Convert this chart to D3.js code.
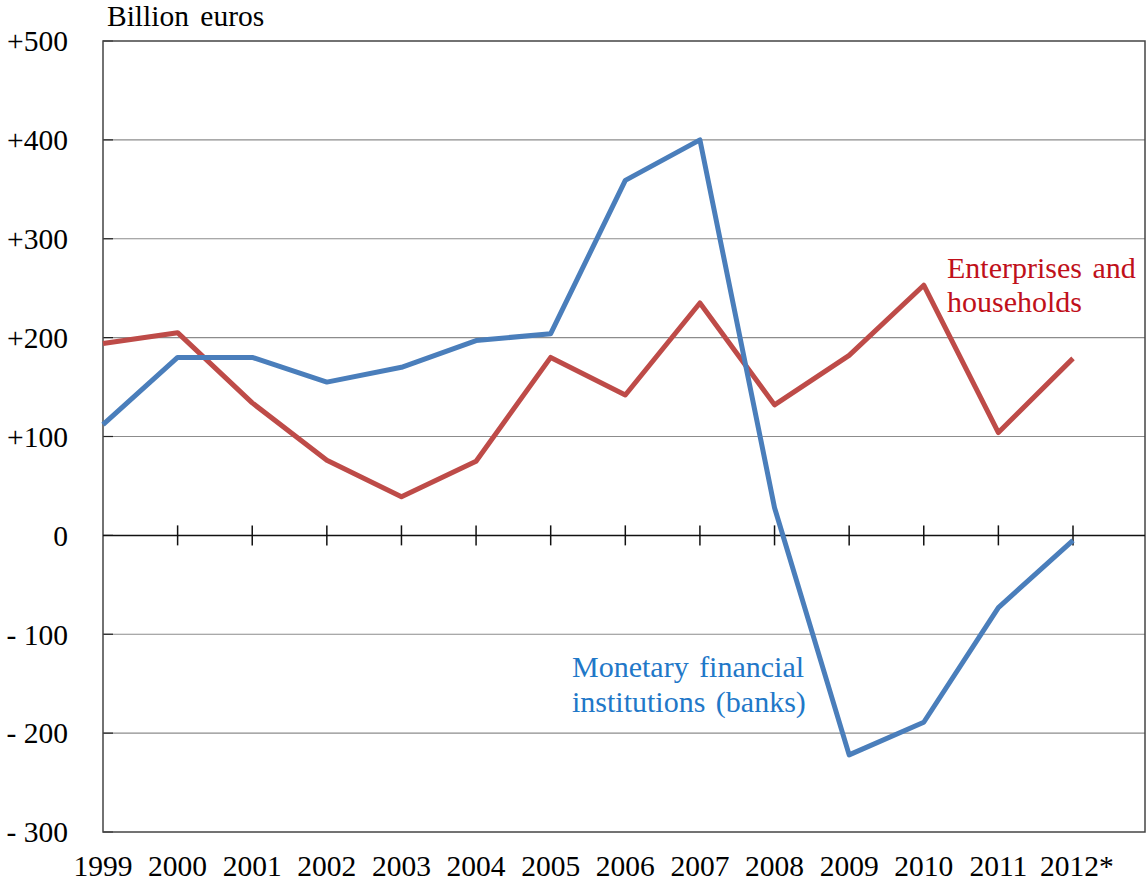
<!DOCTYPE html>
<html>
<head>
<meta charset="utf-8">
<script src="https://cdn.jsdelivr.net/npm/d3@7"></script>
<style>
  html, body { margin: 0; padding: 0; background: #fff; }
</style>
</head>
<body>
<div id="chart"></div>
<script>
// Data: net capital flows, billion euros
const years = [1999, 2000, 2001, 2002, 2003, 2004, 2005, 2006, 2007, 2008, 2009, 2010, 2011, 2012];
const yearLabels = ['1999', '2000', '2001', '2002', '2003', '2004', '2005', '2006', '2007', '2008', '2009', '2010', '2011', '2012*'];
const banks = [112, 180, 180, 155, 170, 197, 204, 359, 400, 28, -222, -189, -73, -5];
const households = [194, 205, 134, 76, 39, 75, 180, 142, 235, 132, 182, 253, 104, 179];
const yTicks = [500, 400, 300, 200, 100, 0, -100, -200, -300];
const yTickLabels = ['+500', '+400', '+300', '+200', '+100', '0', '- 100', '- 200', '- 300'];

const W = 1148, H = 882;
const plotL = 103, plotR = 1145, plotT = 41, plotB = 832;
const FONT = "'Liberation Serif', 'Times New Roman', Times, serif";

const svg = d3.select('#chart').append('svg')
  .attr('width', W).attr('height', H)
  .attr('font-family', FONT);

const x = d3.scaleLinear().domain([1999, 2012]).range([plotL, 1073]);
const y = d3.scaleLinear().domain([-300, 500]).range([plotB, plotT]);

// gridlines
svg.append('g').selectAll('line')
  .data(yTicks.filter((v) => v !== 0 && v !== 500 && v !== -300))
  .join('line')
  .attr('x1', plotL).attr('x2', plotR)
  .attr('y1', (d) => y(d)).attr('y2', (d) => y(d))
  .attr('stroke', '#8c8c8c').attr('stroke-width', 1.2);

// left axis short ticks
svg.append('g').selectAll('line')
  .data(yTicks)
  .join('line')
  .attr('x1', plotL).attr('x2', plotL + 10)
  .attr('y1', (d) => y(d)).attr('y2', (d) => y(d))
  .attr('stroke', '#222').attr('stroke-width', 1.2);

// plot frame
svg.append('rect')
  .attr('x', plotL).attr('y', plotT)
  .attr('width', plotR - plotL).attr('height', plotB - plotT)
  .attr('fill', 'none').attr('stroke', '#444').attr('stroke-width', 1.5);

// zero line with year ticks
svg.append('line')
  .attr('x1', plotL).attr('x2', plotR)
  .attr('y1', y(0)).attr('y2', y(0))
  .attr('stroke', '#111').attr('stroke-width', 1.5);

svg.append('g').selectAll('line')
  .data(years.slice(1))
  .join('line')
  .attr('x1', (d) => x(d)).attr('x2', (d) => x(d))
  .attr('y1', y(0) - 10).attr('y2', y(0) + 10)
  .attr('stroke', '#111').attr('stroke-width', 1.5);

// y tick labels
svg.append('g').selectAll('text')
  .data(yTicks)
  .join('text')
  .attr('font-family', FONT)
  .attr('x', 68)
  .attr('y', (d) => y(d))
  .attr('dy', '0.35em')
  .attr('text-anchor', 'end')
  .attr('font-size', 29.5)
  .attr('fill', '#000')
  .text((d, i) => yTickLabels[i]);

// x tick labels
svg.append('g').selectAll('text')
  .data(years)
  .join('text')
  .attr('font-family', FONT)
  .attr('x', (d) => x(d))
  .attr('y', 876)
  .attr('text-anchor', (d, i) => i === years.length - 1 ? 'start' : 'middle')
  .attr('dx', (d, i) => i === years.length - 1 ? -33 : 0)
  .attr('font-size', 29.5)
  .attr('fill', '#000')
  .text((d, i) => yearLabels[i]);

// unit label
svg.append('text')
  .attr('font-family', FONT)
  .attr('x', 107).attr('y', 26)
  .attr('font-size', 29.5)
  .attr('word-spacing', 4)
  .text('Billion euros');

// series lines
const line = (vals) => d3.line()
  .x((d, i) => x(years[i]))
  .y((d) => y(d))(vals);

svg.append('path')
  .attr('d', line(households))
  .attr('fill', 'none')
  .attr('stroke', '#be4b48')
  .attr('stroke-width', 5)
  .attr('stroke-linejoin', 'round');

svg.append('path')
  .attr('d', line(banks))
  .attr('fill', 'none')
  .attr('stroke', '#4a7ebb')
  .attr('stroke-width', 5)
  .attr('stroke-linejoin', 'round');

// series labels
const redLabel = svg.append('text')
  .attr('font-family', FONT)
  .attr('font-size', 30).attr('word-spacing', 3).attr('fill', '#c0101a');
redLabel.append('tspan').attr('x', 947).attr('y', 278).text('Enterprises and');
redLabel.append('tspan').attr('x', 947).attr('y', 312).text('households');

const blueLabel = svg.append('text')
  .attr('font-family', FONT)
  .attr('font-size', 30).attr('word-spacing', 3).attr('fill', '#1f78c8');
blueLabel.append('tspan').attr('x', 572).attr('y', 677).text('Monetary financial');
blueLabel.append('tspan').attr('x', 572).attr('y', 712).text('institutions (banks)');
</script>
</body>
</html>
